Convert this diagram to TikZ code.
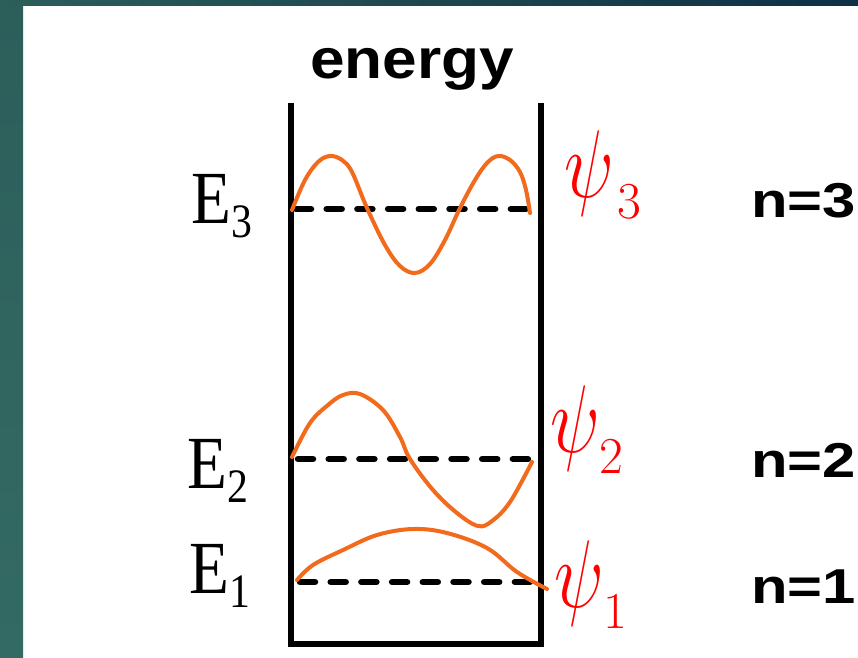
\RequirePackage{fix-cm}
\documentclass[tikz,border=0pt]{standalone}
\usepackage{fontspec}
\newfontfamily\headfont{Liberation Sans}
\newfontfamily\eserif{Liberation Serif}
\definecolor{waveorange}{HTML}{F26A1B}
\definecolor{psired}{HTML}{FF0000}
\definecolor{tealA}{HTML}{2C5E5A}
\definecolor{tealB}{HTML}{346A64}
\definecolor{navy}{HTML}{0D3045}
\newcommand{\elab}[1]{E\kern1pt\raisebox{-14pt}{\fontsize{48}{50}\selectfont #1}}
\newcommand{\psilab}[1]{$\scalebox{1.0}[1.3]{$\psi$}_{#1}$}
\begin{document}
\begin{tikzpicture}[x=1pt,y=-1pt,
  wall/.style={line width=6pt, line join=miter},
  level/.style={line width=6.5pt, dash pattern=on 15pt off 15.7pt, line cap=round},
  wave/.style={line width=4pt, draw=waveorange, line cap=round, line join=round},
  elabel/.style={inner sep=0pt, anchor=base west, xscale=0.87, font=\eserif\fontsize{75}{80}\selectfont},
  psilabel/.style={inner sep=0pt, anchor=base west, text=psired, font=\fontsize{74}{80}\selectfont},
  nlabel/.style={inner sep=0pt, anchor=base west, xscale=1.22, font=\headfont\bfseries\fontsize{49}{52}\selectfont},
  title/.style={inner sep=0pt, anchor=base west, xscale=1.11, font=\headfont\bfseries\fontsize{56}{60}\selectfont}]
\useasboundingbox (0,0) rectangle (858,657);
\fill[white] (0,0) rectangle (858,657);
\shade[top color=tealA, bottom color=tealB] (0,0) rectangle (23,657);
\shade[left color=tealA, right color=navy] (0,0) rectangle (858,5.5);

% box
\coordinate (tl) at (290.5,103);
\coordinate (bl) at (290.5,643.5);
\coordinate (br) at (540.5,643.5);
\coordinate (tr) at (540.5,103);
\draw[wall] (tl) -- (bl) -- (br) -- (tr);

% levels
\coordinate (l3a) at (296,209); \coordinate (l3b) at (526,209);
\coordinate (l2a) at (298,459); \coordinate (l2b) at (531,459);
\coordinate (l1a) at (300,582); \coordinate (l1b) at (531,582);
\draw[level] (l3a) -- (l3b);
\draw[level] (l2a) -- (l2b);
\draw[level] (l1a) -- (l1b);

% waves
\draw[wave] plot[smooth, tension=0.6] coordinates {(292,210) (305,180) (318,162) (330,156) (342,160) (352,172) (367,208) (385,245) (400,266) (415,273) (430,264) (445,240) (460,208) (475,180) (487,163) (498,156) (510,160) (520,172) (526,190) (530,213)};
\draw[wave] plot[smooth, tension=0.6] coordinates {(292,457) (310,423) (328,405) (343,395) (360,394) (383,410) (400,437) (410,459) (433,490) (457,513) (478,526) (492,521) (510,502) (532,462)};
\draw[wave] plot[smooth, tension=0.6] coordinates {(297,580) (313,565) (343,550) (377,535) (413,529) (447,533) (487,548) (517,572) (547,589)};

% labels
\node[title] (energy) at (310,78) {energy};
\node[elabel] (e3) at (191,223) {\elab{3}};
\node[elabel] (e2) at (187,488) {\elab{2}};
\node[elabel] (e1) at (189,593) {\elab{1}};
\node[psilabel] (p3) at (564,197) {\psilab{\kern4pt 3}};
\node[psilabel] (p2) at (550,452) {\psilab{2}};
\node[psilabel] (p1) at (554,607) {\psilab{1}};
\node[nlabel] (n3) at (751,217) {n=3};
\node[nlabel] (n2) at (751,477) {n=2};
\node[nlabel] (n1) at (751,603) {n=1};
\end{tikzpicture}
\end{document}
